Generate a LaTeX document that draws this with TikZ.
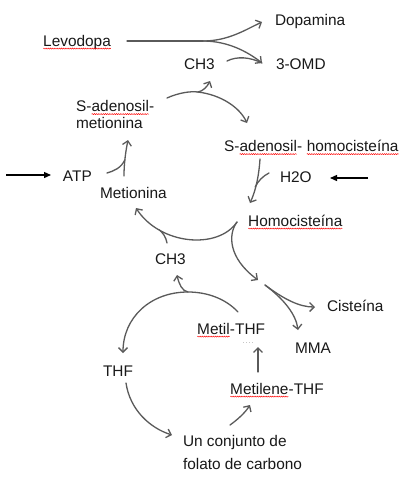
\documentclass[tikz,border=0pt]{standalone}
\usepackage{fontspec}
\setmainfont{Liberation Sans}
\usetikzlibrary{arrows.meta,decorations.pathmorphing}
\definecolor{arrgray}{RGB}{90,90,90}
\definecolor{txt}{RGB}{25,25,25}
\newcommand\spellmark[1]{\tikz[baseline=(sm.base)]{\node[inner sep=0pt,outer sep=0pt,anchor=base](sm){#1};\draw[red,line width=0.45pt,decorate,decoration={snake,amplitude=0.55pt,segment length=2.2pt}]([yshift=-2.6pt]sm.base west)--([yshift=-2.6pt]sm.base east);}}
\begin{document}
\begin{tikzpicture}[x=1pt,y=-1pt,
 lbl/.style={anchor=base west,inner sep=0pt,outer sep=0pt,text=txt,font=\fontsize{15.4}{18}\selectfont},
 conn/.style={draw=arrgray,line width=1.3pt,line cap=round},
 tip/.style={-{Straight Barb[length=4.5pt,width=9pt]}},
 inp/.style={draw=black,line width=1.3pt,-{Triangle[length=7pt,width=6pt]}}]
\fill[white] (0,0) rectangle (411,480);
\useasboundingbox (0,0) rectangle (411,480);
% labels
\node[lbl] (lev) at (43,46) {\spellmark{Levodopa}};
\node[lbl] (dop) at (275,25.5) {Dopamina};
\node[lbl] (ch3a) at (184,69) {CH3};
\node[lbl] (omd) at (276,69) {3-OMD};
\node[lbl] (sam1) at (76,111.5) {S-\spellmark{adenosil}-};
\node[lbl] (sam2) at (76,128) {metionina};
\node[lbl] (sah) at (224,151.5) {S-\spellmark{adenosil}- \spellmark{homocisteína}};
\node[lbl] (atp) at (63,181) {ATP};
\node[lbl] (met) at (100,198) {Metionina};
\node[lbl] (h2o) at (280,182) {H2O};
\node[lbl] (hcy) at (248,226) {\spellmark{Homocisteína}};
\node[lbl] (ch3b) at (155,264) {CH3};
\node[lbl] (cys) at (327,311) {Cisteína};
\node[lbl] (mthf) at (197,334) {\spellmark{Metil}-THF};
\node[lbl] (mma) at (295,353) {MMA};
\node[lbl] (thf) at (103,376) {THF};
\node[lbl] (mlthf) at (230,394) {\spellmark{Metilene}-THF};
\node[lbl] (un1) at (183,446) {Un conjunto de};
\node[lbl] (un2) at (183,469) {folato de carbono};
% Levodopa split
\coordinate (levS) at (127,41);
\coordinate (levJ) at (203,41);
\coordinate (dopT) at (262,22);
\coordinate (omdT) at (262,63);
\draw[conn] (levS) -- (levJ);
\draw[conn,tip] (levJ) .. controls (228,41) and (245,30) .. (dopT);
\draw[conn,tip] (levJ) .. controls (228,41) and (248,52) .. (omdT);
\coordinate (ch3aS) at (227,61);
\draw[conn] (ch3aS) .. controls (237,56) and (250,57) .. (omdT);
% SAM split
\coordinate (samS) at (167,98);
\coordinate (samJ) at (198,92);
\coordinate (ch3aT) at (210,81);
\coordinate (sahT) at (247,123);
\draw[conn] (samS) .. controls (178,93) and (190,91) .. (samJ);
\draw[conn,tip] (samJ) .. controls (203,91) and (207,87) .. (ch3aT);
\draw[conn,tip] (samJ) .. controls (222,95) and (240,108) .. (sahT);
% Metionina -> SAM, ATP joins
\coordinate (metS) at (124,176);
\coordinate (samT) at (128,140);
\coordinate (atpJ) at (124.8,160);
\draw[conn,tip] (metS) .. controls (124,162) and (126,150) .. (samT);
\coordinate (atpS) at (107,173);
\draw[conn] (atpS) .. controls (114,171) and (121,168) .. (atpJ);
\coordinate (atpIn) at (6,175);
\coordinate (atpInT) at (51,175);
\draw[inp] (atpIn) -- (atpInT);
% SAH -> Homocisteina, H2O joins
\coordinate (sahS) at (260,159);
\coordinate (hcyT) at (250,203);
\coordinate (h2oJ) at (255.2,187);
\draw[conn,tip] (sahS) .. controls (259,175) and (256,190) .. (hcyT);
\coordinate (h2oS) at (269,173);
\draw[conn] (h2oS) .. controls (263,176) and (258,181) .. (h2oJ);
\coordinate (h2oIn) at (368,178);
\coordinate (h2oInT) at (330,178);
\draw[inp] (h2oIn) -- (h2oInT);
% Homocisteina cusp
\coordinate (cusp) at (237,222);
\coordinate (metT) at (136,208);
\coordinate (ch3bJ) at (159.3,229.9);
\coordinate (cuspT) at (258,280);
\draw[conn,tip] (cusp) .. controls (218,250) and (160,245) .. (metT);
\coordinate (ch3bS) at (167,243);
\draw[conn] (ch3bS) .. controls (166,237) and (163,233) .. (ch3bJ);
\draw[conn,tip] (cusp) .. controls (228,234) and (228,258) .. (cuspT);
% split to Cisteina and MMA
\coordinate (splS) at (265,285);
\coordinate (cysT) at (315,307);
\coordinate (mmaT) at (298,330);
\draw[conn,tip] (splS) .. controls (285,300) and (300,307) .. (cysT);
\draw[conn,tip] (splS) .. controls (285,300) and (296,315) .. (mmaT);
% lower cycle
\coordinate (mthfS) at (238,312);
\coordinate (arcTop) at (188,292);
\coordinate (thfT) at (123,353);
\coordinate (ch3bT) at (177,275);
\draw[conn,tip] (mthfS) .. controls (225,298) and (206,292) .. (arcTop) .. controls (150,292) and (123,318) .. (thfT);
\draw[conn,tip] (arcTop) .. controls (182,291) and (179,284) .. (ch3bT);
\coordinate (mlS) at (258,372);
\coordinate (mlT) at (258,347);
\draw[conn,tip] (mlS) -- (mlT);
\draw[gray!45,line width=0.8pt,dash pattern=on 1pt off 2pt] (243,342) -- (255,342);
\coordinate (thfS) at (126,383);
\coordinate (unT) at (172,435);
\draw[conn,tip] (thfS) .. controls (130,410) and (150,428) .. (unT);
\coordinate (unS) at (230,425);
\coordinate (mlT2) at (250,405);
\draw[conn,tip] (unS) .. controls (237,420) and (245,413) .. (mlT2);
\end{tikzpicture}
\end{document}
